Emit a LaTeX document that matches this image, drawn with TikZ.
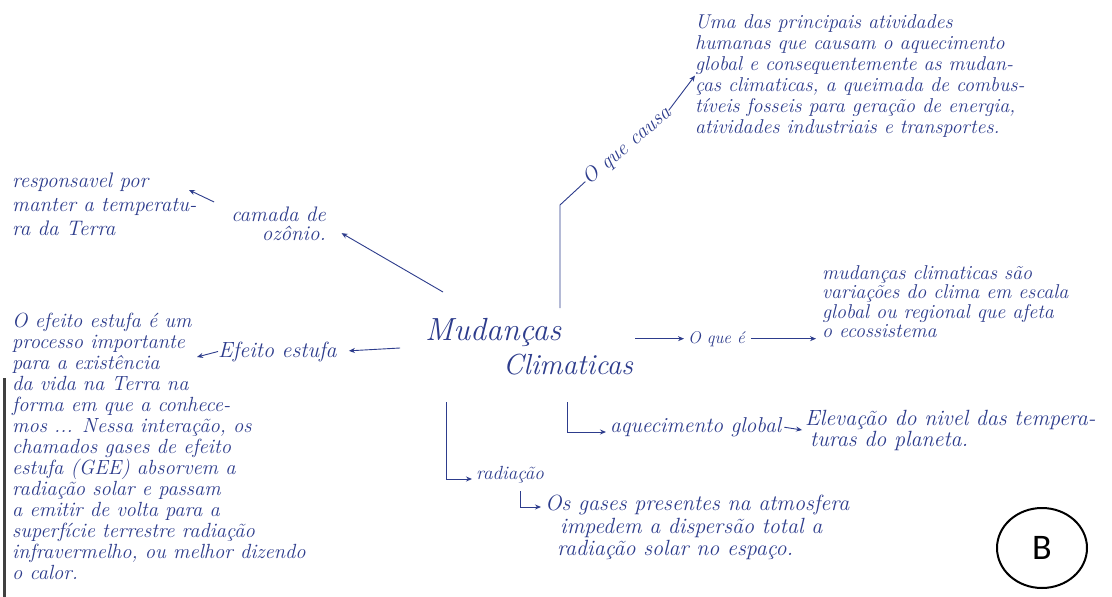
\documentclass[tikz,border=0pt]{standalone}
\usepackage{fontspec}
\newfontfamily\labfont{Carlito}
\usetikzlibrary{arrows.meta,shapes.geometric}
\definecolor{ink}{RGB}{45,60,140}
\tikzset{
  hand/.style={text=ink, font=\itshape\fontsize{19}{21}\selectfont, inner sep=0pt, align=left},
  conn/.style={draw=ink, line width=0.9pt},
  arr/.style={conn, -{Stealth[length=6pt,width=5pt]}},
}
\begin{document}
\begin{tikzpicture}[x=1pt,y=-1pt]
\useasboundingbox (0,0) rectangle (1112,597);
\fill[white] (0,0) rectangle (1112,597);
\draw[line width=3pt, black!75] (4,378) -- (4,597);

% centre
\node[hand, font=\itshape\fontsize{32}{34}\selectfont, anchor=north west] (center) at (425,318)
  {Mudanças\\\hspace*{78pt}{\fontsize{29}{34}\selectfont Climaticas}};

% O que causa
\node[hand, font=\itshape\fontsize{21}{21}\selectfont, rotate=40.5] (causa) at (627,146) {O que causa};
\node[hand, font=\itshape\fontsize{20}{21}\selectfont, anchor=north west] (cause) at (695,14)
  {Uma das principais atividades\\
   humanas que causam o aquecimento\\
   global e consequentemente as mudan-\\
   ças climaticas, a queimada de combus-\\
   tíveis fosseis para geração de energia,\\
   atividades industriais e transportes.};
\coordinate (cj) at (560,205);
\draw[conn, shorten <=10pt] (cj |- center.north) -- (cj) -- (causa.west);
\draw[arr] (causa.east) -- (cause.west);

% camada de ozonio
\node[hand, font=\itshape\fontsize{21}{21}\selectfont, anchor=north west] (resp) at (12,173)
  {responsavel por\\[3pt]
   manter a temperatu-\\[3pt]
   ra da Terra};
\node[hand, font=\itshape\fontsize{21}{19}\selectfont, align=right, anchor=north east] (camada) at (326,207)
  {camada de\\ ozônio.};
\draw[arr, shorten >=18pt] ([shift={(18,-26)}]center.north west) -- (camada.east);
\coordinate (tiny) at (189,190);
\draw[arr] ([shift={(-17,-5)}]camada.north west) -- (tiny);

% Efeito estufa
\node[hand, font=\itshape\fontsize{22}{21}\selectfont, anchor=base west] (efeito) at (218,357) {Efeito estufa};
\node[hand, font=\itshape\fontsize{20.5}{21}\selectfont, anchor=north west] (estufa) at (12,313)
  {O efeito estufa é um\\
   processo importante\\
   para a existência\\
   da vida na Terra na\\
   forma em que a conhece-\\
   mos ... Nessa interação, os\\
   chamados gases de efeito\\
   estufa (GEE) absorvem a\\
   radiação solar e passam\\
   a emitir de volta para a\\
   superfície terrestre radiação\\
   infravermelho, ou melhor dizendo\\
   o calor.};
\draw[arr, shorten <=25pt, shorten >=12pt] (center.west) -- (efeito.east);
\coordinate (ee) at (197,357);
\draw[arr] (efeito.west) -- (ee);

% O que e
\node[hand, font=\itshape\fontsize{17}{19}\selectfont, anchor=base west] (oque) at (688,343) {O que é};
\node[hand, font=\itshape\fontsize{20}{19.5}\selectfont, anchor=north west] (def) at (822,265)
  {mudanças climaticas são\\
   variações do clima em escala\\
   global ou regional que afeta\\
   o ecossistema};
\draw[arr, shorten <=2pt, shorten >=4pt] (oque.west -| center.east) -- (oque.west);
\draw[arr, shorten <=6pt, shorten >=6pt] (oque.east) -- (oque.east -| def.west);

% aquecimento global
\node[hand, font=\itshape\fontsize{21.5}{21}\selectfont, anchor=base west] (aq) at (610,432) {aquecimento global};
\node[hand, font=\itshape\fontsize{22}{21}\selectfont, anchor=north west] (elev) at (805,410)
  {Elevação do nivel das tempera-\\\hspace*{5pt}turas do planeta.};
\coordinate (aqtop) at (567,402);
\draw[arr, shorten >=4pt] (aqtop) -- (aqtop |- aq.base west) -- (aq.base west);
\draw[arr, shorten <=3pt, shorten >=3pt] (aq.east) -- (elev.west);

% radiacao
\node[hand, anchor=base west] (rad) at (476,479) {radiação};
\node[hand, font=\itshape\fontsize{22}{22.5}\selectfont, anchor=north west] (gases) at (545,495)
  {Os gases presentes na atmosfera\\
   \hspace*{15pt}impedem a dispersão total a\\
   \hspace*{12pt}radiação solar no espaço.};
\coordinate (radtop) at (446,402);
\draw[arr, shorten >=4pt] (radtop) -- (radtop |- rad.base west) -- (rad.base west);
\coordinate (gtop) at (520,491);
\draw[arr, shorten >=4pt] (gtop) |- ([yshift=-12pt]gases.north west);

% B
\node[draw=black, line width=2pt, ellipse, minimum width=90pt, minimum height=80pt,
      font=\labfont\fontsize{36}{36}\selectfont] (b) at (1042,548) {B};
\end{tikzpicture}
\end{document}
